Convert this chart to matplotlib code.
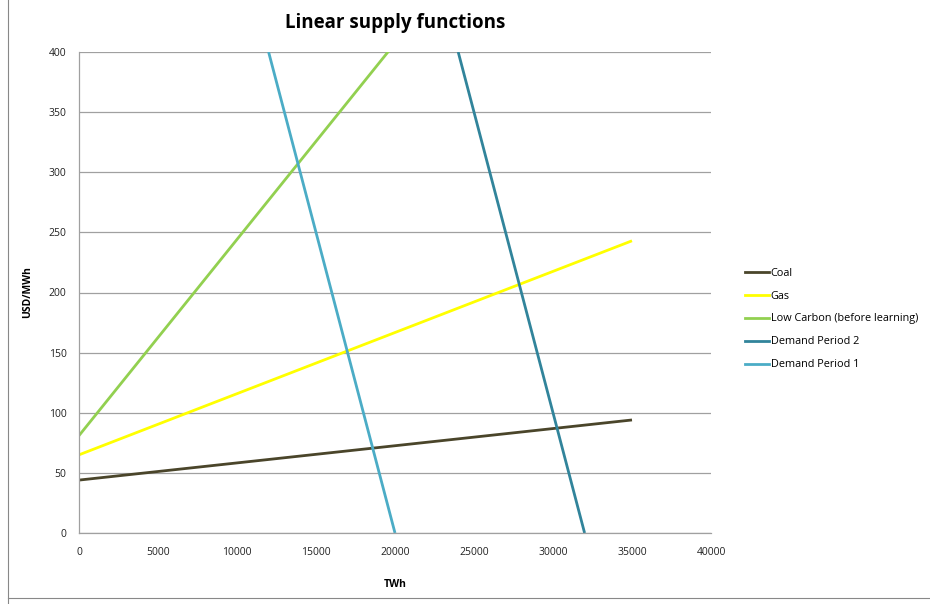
import matplotlib
matplotlib.use("Agg")
import matplotlib.pyplot as plt
from matplotlib.lines import Line2D

plt.rcParams['font.family'] = ['Open Sans', 'DejaVu Sans']

series_names = ["Coal", "Gas", "Low Carbon (before learning)", "Demand Period 2", "Demand Period 1"]
coal_x = [0, 35000]
coal_y = [44, 94]
gas_x = [0, 35000]
gas_y = [65, 243]
lowc_x = [0, 35000]
lowc_y = [81, 652]
dem2_x = [24000, 32000]
dem2_y = [400, 0]
dem1_x = [12000, 20000]
dem1_y = [400, 0]
colors = ["#4a452a", "#ffff00", "#92d050", "#31849b", "#4bacc6"]
x_ticks = [0, 5000, 10000, 15000, 20000, 25000, 30000, 35000, 40000]
y_ticks = [0, 50, 100, 150, 200, 250, 300, 350, 400]

fig = plt.figure(figsize=(9.3, 6.04), dpi=100)
ax = fig.add_axes([79/930, 1-533/604, (711-79)/930, (533-52)/604])

xs = [coal_x, gas_x, lowc_x, dem2_x, dem1_x]
ys = [coal_y, gas_y, lowc_y, dem2_y, dem1_y]
for x, y, c, n in zip(xs, ys, colors, series_names):
    ax.plot(x, y, color=c, lw=2.0, label=n, solid_capstyle='butt')

ax.set_xlim(0, 40000)
ax.set_ylim(0, 400)
ax.set_xticks(x_ticks)
ax.set_yticks(y_ticks)
ax.set_xticklabels([str(t) for t in x_ticks])
ax.set_yticklabels([str(t) for t in y_ticks])
ax.grid(axis='y', color='#a0a0a0', lw=0.9)
ax.set_axisbelow(True)
for s in ['top', 'right']:
    ax.spines[s].set_visible(False)
for s in ['left', 'bottom']:
    ax.spines[s].set_color('#a0a0a0')
    ax.spines[s].set_linewidth(0.9)
ax.tick_params(length=0, labelsize=7.5, colors='#222222')
ax.tick_params(axis='x', pad=10)
ax.tick_params(axis='y', pad=9)

ax.set_xlabel("TWh", fontsize=7.5, fontweight='bold', labelpad=15)
ax.set_ylabel("USD/MWh", fontsize=7.5, fontweight='bold', labelpad=20)
ax.yaxis.set_label_coords(-(79-33)/632, 0.5)
fig.text((79+711)/2/930, 1-23/604, "Linear supply functions", fontsize=13.5,
         fontweight='bold', ha='center', va='center')

handles = [Line2D([], [], color=c, lw=2.0) for c in colors]
fig.legend(handles, series_names, loc='center left', bbox_to_anchor=(735/930, 1-319/604),
           frameon=False, fontsize=7.8, handlelength=2.2, handletextpad=0.2,
           labelspacing=1.1)

fig.add_artist(Line2D([8/930, 8/930], [0, 1], color='#888888', lw=0.8, transform=fig.transFigure))
fig.add_artist(Line2D([8/930, 1], [1-598/604, 1-598/604], color='#888888', lw=0.8, transform=fig.transFigure))

fig.savefig("out.png", dpi=100)
